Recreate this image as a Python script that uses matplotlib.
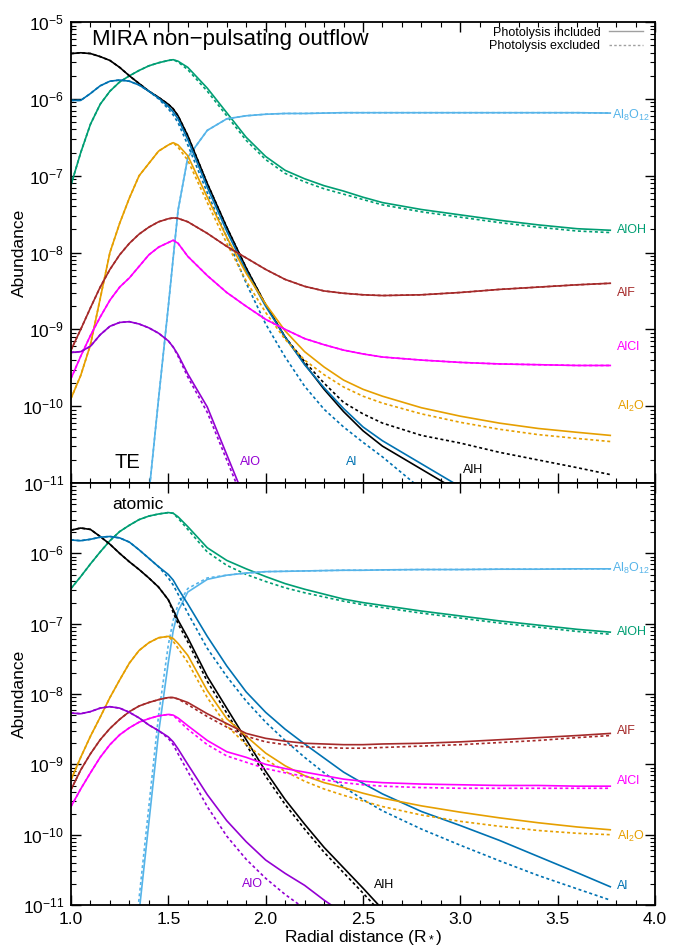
import numpy as np
import matplotlib
matplotlib.use('Agg')
import matplotlib.pyplot as plt
from matplotlib.lines import Line2D
from matplotlib.ticker import MultipleLocator, FormatStrFormatter, LogLocator, NullFormatter

plt.rcParams['font.family'] = ['Liberation Sans', 'DejaVu Sans']
plt.rcParams['mathtext.fontset'] = 'custom'
plt.rcParams['mathtext.rm'] = 'Liberation Sans'
plt.rcParams['mathtext.it'] = 'Liberation Sans:italic'
plt.rcParams['mathtext.bf'] = 'Liberation Sans:bold'

nan = np.nan

# radial distance grid (R*)
r = [1.0, 1.05, 1.1, 1.15, 1.2, 1.25, 1.3, 1.35, 1.4, 1.45, 1.5, 1.525, 1.55, 1.6, 1.7,
     1.8, 1.9, 2.0, 2.1, 2.2, 2.3, 2.4, 2.5, 2.6, 2.8, 3.0, 3.2, 3.4, 3.6, 3.77]

# ---- TE panel, log10 abundance (solid = photolysis included, _x = excluded)
te_aloh = [-7.12, -6.70, -6.33, -6.07, -5.90, -5.78, -5.70, -5.63, -5.57, -5.53, -5.50, -5.49, -5.51, -5.59, -5.86,
           -6.18, -6.50, -6.75, -6.93, -7.04, -7.13, -7.20, -7.28, -7.35, -7.44, -7.51, -7.58, -7.64, -7.69, -7.71]
te_aloh_x = [-7.12, -6.70, -6.33, -6.07, -5.90, -5.78, -5.70, -5.63, -5.57, -5.53, -5.50, -5.49, -5.52, -5.62, -5.90,
             -6.22, -6.54, -6.79, -6.97, -7.08, -7.17, -7.24, -7.31, -7.38, -7.47, -7.54, -7.61, -7.67, -7.72, -7.74]
te_al8o12 = [nan, nan, nan, nan, nan, nan, -13.6, -12.4, -11.15, -9.9, -8.7, -8.07, -7.45, -6.76, -6.41,
             -6.26, -6.22, -6.20, -6.19, -6.19, -6.185, -6.18, -6.18, -6.18, -6.18, -6.18, -6.18, -6.18, -6.18, -6.185]
te_al8o12_x = te_al8o12
te_alh = [-5.41, -5.40, -5.41, -5.45, -5.50, -5.59, -5.70, -5.80, -5.90, -5.98, -6.07, -6.13, -6.22, -6.48, -7.10,
          -7.67, -8.20, -8.68, -9.10, -9.45, -9.78, -10.07, -10.32, -10.52, -10.82, -11.12, -11.4, nan, nan, nan]
te_alh_x = [-5.41, -5.40, -5.41, -5.45, -5.50, -5.59, -5.70, -5.80, -5.90, -5.98, -6.07, -6.13, -6.22, -6.48, -7.10,
            -7.67, -8.20, -8.68, -9.10, -9.42, -9.70, -9.95, -10.10, -10.22, -10.38, -10.48, -10.60, -10.70, -10.80, -10.89]
te_al = [-6.02, -6.02, -5.93, -5.83, -5.77, -5.755, -5.77, -5.82, -5.90, -5.99, -6.10, -6.17, -6.26, -6.53, -7.15,
         -7.72, -8.24, -8.70, -9.10, -9.46, -9.76, -10.03, -10.27, -10.45, -10.75, -11.05, -11.35, nan, nan, nan]
te_al_x = [-6.02, -6.02, -5.93, -5.83, -5.77, -5.755, -5.77, -5.82, -5.90, -6.00, -6.13, -6.21, -6.31, -6.60, -7.22,
           -7.80, -8.40, -8.93, -9.36, -9.74, -10.04, -10.27, -10.47, -10.66, -11.08, -11.5, nan, nan, nan, nan]
te_al2o = [-9.90, -9.60, -9.20, -8.60, -8.00, -7.62, -7.29, -7.00, -6.84, -6.68, -6.60, -6.57, -6.60, -6.74, -7.28,
           -7.80, -8.27, -8.67, -9.02, -9.29, -9.49, -9.66, -9.78, -9.87, -10.02, -10.13, -10.22, -10.29, -10.34, -10.38]
te_al2o_x = [-9.90, -9.60, -9.20, -8.60, -8.00, -7.62, -7.29, -7.00, -6.84, -6.68, -6.60, -6.57, -6.63, -6.80, -7.35,
             -7.88, -8.37, -8.78, -9.13, -9.40, -9.59, -9.75, -9.87, -9.96, -10.10, -10.21, -10.30, -10.37, -10.42, -10.46]
te_alf = [-9.27, -9.00, -8.72, -8.45, -8.22, -8.03, -7.88, -7.76, -7.67, -7.60, -7.56, -7.55, -7.555, -7.60, -7.75,
          -7.92, -8.07, -8.22, -8.35, -8.44, -8.50, -8.53, -8.55, -8.56, -8.55, -8.52, -8.48, -8.45, -8.42, -8.40]
te_alf_x = te_alf
te_alcl = [-9.64, -9.35, -9.08, -8.84, -8.62, -8.45, -8.33, -8.18, -8.03, -7.93, -7.87, -7.84, -7.88, -8.05, -8.30,
           -8.52, -8.70, -8.87, -9.00, -9.12, -9.20, -9.27, -9.32, -9.36, -9.40, -9.43, -9.45, -9.46, -9.47, -9.47]
te_alcl_x = te_alcl
te_alo = [-9.30, -9.29, -9.22, -9.07, -8.96, -8.91, -8.90, -8.93, -8.98, -9.05, -9.15, -9.23, -9.33, -9.58, -10.01,
          -10.63, -11.25, nan, nan, nan, nan, nan, nan, nan, nan, nan, nan, nan, nan, nan]
te_alo_x = [-9.30, -9.29, -9.22, -9.07, -8.96, -8.91, -8.90, -8.93, -8.98, -9.05, -9.15, -9.23, -9.35, -9.62, -10.08,
            -10.70, -11.32, nan, nan, nan, nan, nan, nan, nan, nan, nan, nan, nan, nan, nan]

# ---- atomic panel
at_aloh = [-6.50, -6.33, -6.15, -5.98, -5.82, -5.69, -5.60, -5.52, -5.47, -5.44, -5.42, -5.43, -5.48, -5.62, -5.92,
           -6.10, -6.22, -6.33, -6.43, -6.51, -6.58, -6.65, -6.70, -6.74, -6.82, -6.89, -6.96, -7.02, -7.08, -7.12]
at_aloh_x = [-6.50, -6.33, -6.15, -5.98, -5.82, -5.69, -5.60, -5.52, -5.47, -5.44, -5.42, -5.43, -5.50, -5.66, -5.98,
             -6.17, -6.30, -6.40, -6.49, -6.56, -6.62, -6.68, -6.73, -6.77, -6.85, -6.92, -6.99, -7.05, -7.11, -7.15]
at_al8o12 = [nan, nan, nan, nan, nan, nan, -12.4, -11.1, -9.83, -8.55, -7.55, -7.10, -6.82, -6.55, -6.37,
             -6.31, -6.28, -6.26, -6.255, -6.25, -6.245, -6.24, -6.24, -6.235, -6.23, -6.23, -6.225, -6.225, -6.22, -6.22]
at_al8o12_x = [nan, nan, nan, nan, nan, nan, -12.2, -10.9, -9.60, -8.30, -7.30, -6.95, -6.73, -6.50, -6.35,
               -6.31, -6.28, -6.26, -6.255, -6.25, -6.245, -6.24, -6.24, -6.235, -6.23, -6.23, -6.225, -6.225, -6.22, -6.22]
at_alh = [-5.67, -5.64, -5.66, -5.76, -5.87, -6.00, -6.12, -6.23, -6.35, -6.48, -6.66, -6.80, -6.95, -7.20, -7.75,
          -8.20, -8.65, -9.10, -9.50, -9.85, -10.18, -10.47, -10.76, -11.06, -11.6, nan, nan, nan, nan, nan]
at_alh_x = [-5.67, -5.64, -5.66, -5.76, -5.87, -6.00, -6.12, -6.23, -6.35, -6.48, -6.66, -6.84, -7.00, -7.26, -7.82,
            -8.27, -8.72, -9.17, -9.57, -9.92, -10.25, -10.54, -10.83, -11.13, -11.7, nan, nan, nan, nan, nan]
at_al = [-5.81, -5.82, -5.80, -5.77, -5.76, -5.78, -5.84, -5.95, -6.07, -6.19, -6.30, -6.38, -6.50, -6.72, -7.18,
         -7.60, -7.97, -8.26, -8.50, -8.71, -8.91, -9.11, -9.27, -9.42, -9.67, -9.87, -10.08, -10.31, -10.54, -10.74]
at_al_x = [-5.81, -5.82, -5.80, -5.77, -5.76, -5.78, -5.84, -5.95, -6.07, -6.19, -6.35, -6.45, -6.58, -6.85, -7.35,
           -7.75, -8.10, -8.40, -8.66, -8.90, -9.12, -9.32, -9.50, -9.66, -9.92, -10.15, -10.37, -10.58, -10.77, -10.93]
at_al2o = [-9.22, -8.90, -8.60, -8.33, -8.05, -7.80, -7.56, -7.38, -7.27, -7.20, -7.18, -7.21, -7.28, -7.45, -7.95,
           -8.35, -8.60, -8.84, -9.02, -9.16, -9.26, -9.33, -9.41, -9.48, -9.59, -9.68, -9.76, -9.83, -9.89, -9.93]
at_al2o_x = [-9.22, -8.90, -8.60, -8.33, -8.05, -7.80, -7.56, -7.38, -7.27, -7.20, -7.18, -7.25, -7.35, -7.55, -8.05,
             -8.45, -8.72, -8.93, -9.10, -9.24, -9.35, -9.44, -9.52, -9.60, -9.72, -9.81, -9.88, -9.94, -9.98, -10.00]
at_alf = [-9.36, -9.08, -8.85, -8.65, -8.49, -8.36, -8.25, -8.17, -8.12, -8.08, -8.05, -8.05, -8.07, -8.12, -8.28,
          -8.42, -8.56, -8.63, -8.67, -8.70, -8.71, -8.72, -8.72, -8.71, -8.70, -8.68, -8.65, -8.62, -8.59, -8.56]
at_alf_x = [-9.36, -9.08, -8.85, -8.65, -8.49, -8.36, -8.25, -8.17, -8.12, -8.08, -8.05, -8.05, -8.07, -8.15, -8.32,
            -8.47, -8.60, -8.68, -8.72, -8.75, -8.76, -8.77, -8.77, -8.76, -8.74, -8.72, -8.69, -8.66, -8.62, -8.59]
at_alcl = [-9.60, -9.35, -9.12, -8.90, -8.72, -8.58, -8.48, -8.40, -8.35, -8.31, -8.29, -8.30, -8.34, -8.45, -8.66,
           -8.82, -8.90, -9.00, -9.06, -9.11, -9.16, -9.21, -9.24, -9.26, -9.28, -9.29, -9.30, -9.30, -9.31, -9.31]
at_alcl_x = [-9.60, -9.35, -9.12, -8.90, -8.72, -8.58, -8.48, -8.40, -8.35, -8.31, -8.29, -8.30, -8.37, -8.50, -8.72,
             -8.88, -8.97, -9.06, -9.12, -9.17, -9.22, -9.26, -9.29, -9.31, -9.33, -9.34, -9.34, -9.34, -9.34, -9.34]
at_alo = [-8.27, -8.28, -8.25, -8.20, -8.18, -8.20, -8.26, -8.34, -8.44, -8.52, -8.61, -8.68, -8.78, -9.00, -9.43,
          -9.80, -10.10, -10.36, -10.55, -10.72, -10.93, -11.12, -11.35, nan, nan, nan, nan, nan, nan, nan]
at_alo_x = [-8.27, -8.28, -8.25, -8.20, -8.18, -8.20, -8.26, -8.34, -8.44, -8.52, -8.63, -8.72, -8.85, -9.10, -9.60,
            -10.02, -10.35, -10.62, -10.85, -11.05, -11.3, nan, nan, nan, nan, nan, nan, nan, nan, nan]

colors = {'AlOH': '#009e73', 'Al8O12': '#56b4e9', 'AlH': 'black', 'Al': '#0072b2',
          'Al2O': '#e69f00', 'AlF': '#a52a2a', 'AlCl': '#ff00ff', 'AlO': '#9400d3'}

top_series = [('AlOH', te_aloh, te_aloh_x), ('Al8O12', te_al8o12, te_al8o12_x), ('AlH', te_alh, te_alh_x),
              ('Al', te_al, te_al_x), ('Al2O', te_al2o, te_al2o_x), ('AlF', te_alf, te_alf_x),
              ('AlCl', te_alcl, te_alcl_x), ('AlO', te_alo, te_alo_x)]
bot_series = [('AlOH', at_aloh, at_aloh_x), ('Al8O12', at_al8o12, at_al8o12_x), ('AlH', at_alh, at_alh_x),
              ('Al', at_al, at_al_x), ('Al2O', at_al2o, at_al2o_x), ('AlF', at_alf, at_alf_x),
              ('AlCl', at_alcl, at_alcl_x), ('AlO', at_alo, at_alo_x)]

fig = plt.figure(figsize=(6.76, 9.46), dpi=100)
ax1 = fig.add_axes([0.105, 0.4894, 0.864, 0.4873])
ax2 = fig.add_axes([0.105, 0.0433, 0.864, 0.4461])

lw = 1.2
dash = (0, (1.8, 1.6))
for ax, series in [(ax1, top_series), (ax2, bot_series)]:
    for name, inc, exc in series:
        c = colors[name]
        ax.plot(r, 10**np.array(inc), color=c, lw=lw)
        ax.plot(r, 10**np.array(exc), color=c, lw=lw, ls=dash)
    ax.set_yscale('log')
    ax.set_xlim(1.0, 4.0)
    ax.set_ylim(1e-11, 1e-5)
    ax.xaxis.set_major_locator(MultipleLocator(0.5))
    ax.xaxis.set_minor_locator(MultipleLocator(0.1))
    ax.xaxis.set_major_formatter(FormatStrFormatter('%.1f'))
    ax.yaxis.set_minor_locator(LogLocator(base=10, subs=np.arange(2, 10), numticks=20))
    ax.yaxis.set_minor_formatter(NullFormatter())
    ax.tick_params(which='both', direction='in', top=True, right=True, labelsize=12.5, pad=5)
    ax.tick_params(which='major', length=7, width=1.0)
    ax.tick_params(which='minor', length=3.5, width=0.8)
    for s in ax.spines.values():
        s.set_linewidth(1.3)
    ax.set_ylabel('Abundance', fontsize=12.5, labelpad=-3)

ax1.set_yticks([1e-11, 1e-10, 1e-9, 1e-8, 1e-7, 1e-6, 1e-5])
ax1.tick_params(labelbottom=False)
ax2.set_yticks([1e-11, 1e-10, 1e-9, 1e-8, 1e-7, 1e-6])
ax2.set_ylim(1e-11, 1e-5)
ax2.set_xlabel(r'Radial distance (R$_*$)', fontsize=12.5, labelpad=1)

# titles / panel tags
ax1.text(0.036, 0.962, 'MIRA non\u2212pulsating outflow', transform=ax1.transAxes,
         fontsize=16, va='center', ha='left')
ax1.text(1.29, 10**-10.73, 'TE', fontsize=14.5, ha='center', va='center')
ax2.text(1.345, 10**-5.3, 'atomic', fontsize=12.5, ha='center', va='center')

# species labels
lab = {'Al8O12': r'Al$_8$O$_{12}$', 'Al2O': r'Al$_2$O'}
fs = 9
for name, y in [('Al8O12', -6.21), ('AlOH', -7.71), ('AlF', -8.53), ('AlCl', -9.23), ('Al2O', -10.0)]:
    ax1.text(3.78 if name == 'Al8O12' else 3.805, 10**y, lab.get(name, name), color=colors[name],
             fontsize=fs, va='center', ha='left')
ax1.text(1.92, 10**-10.73, 'AlO', color=colors['AlO'], fontsize=fs, ha='center', va='center')
ax1.text(2.44, 10**-10.73, 'Al', color=colors['Al'], fontsize=fs, ha='center', va='center')
ax1.text(3.065, 10**-10.83, 'AlH', color='black', fontsize=fs, ha='center', va='center')

for name, y in [('Al8O12', -6.21), ('AlOH', -7.12), ('AlF', -8.53), ('AlCl', -9.24), ('Al2O', -10.02), ('Al', -10.73)]:
    ax2.text(3.78 if name == 'Al8O12' else 3.805, 10**y, lab.get(name, name), color=colors[name],
             fontsize=fs, va='center', ha='left')
ax2.text(1.93, 10**-10.7, 'AlO', color=colors['AlO'], fontsize=fs, ha='center', va='center')
ax2.text(2.61, 10**-10.72, 'AlH', color='black', fontsize=fs, ha='center', va='center')

# legend
handles = [Line2D([], [], color='#a0a0a0', lw=1.0),
           Line2D([], [], color='#a0a0a0', lw=1.0, ls=dash)]
ax1.legend(handles, ['Photolysis included', 'Photolysis excluded'], loc='upper right',
           bbox_to_anchor=(0.979, 0.99), markerfirst=False, frameon=False, fontsize=9,
           handlelength=2.7, handletextpad=0.7, labelspacing=0.1, borderpad=0, borderaxespad=0)

fig.savefig('out.png', dpi=100)
